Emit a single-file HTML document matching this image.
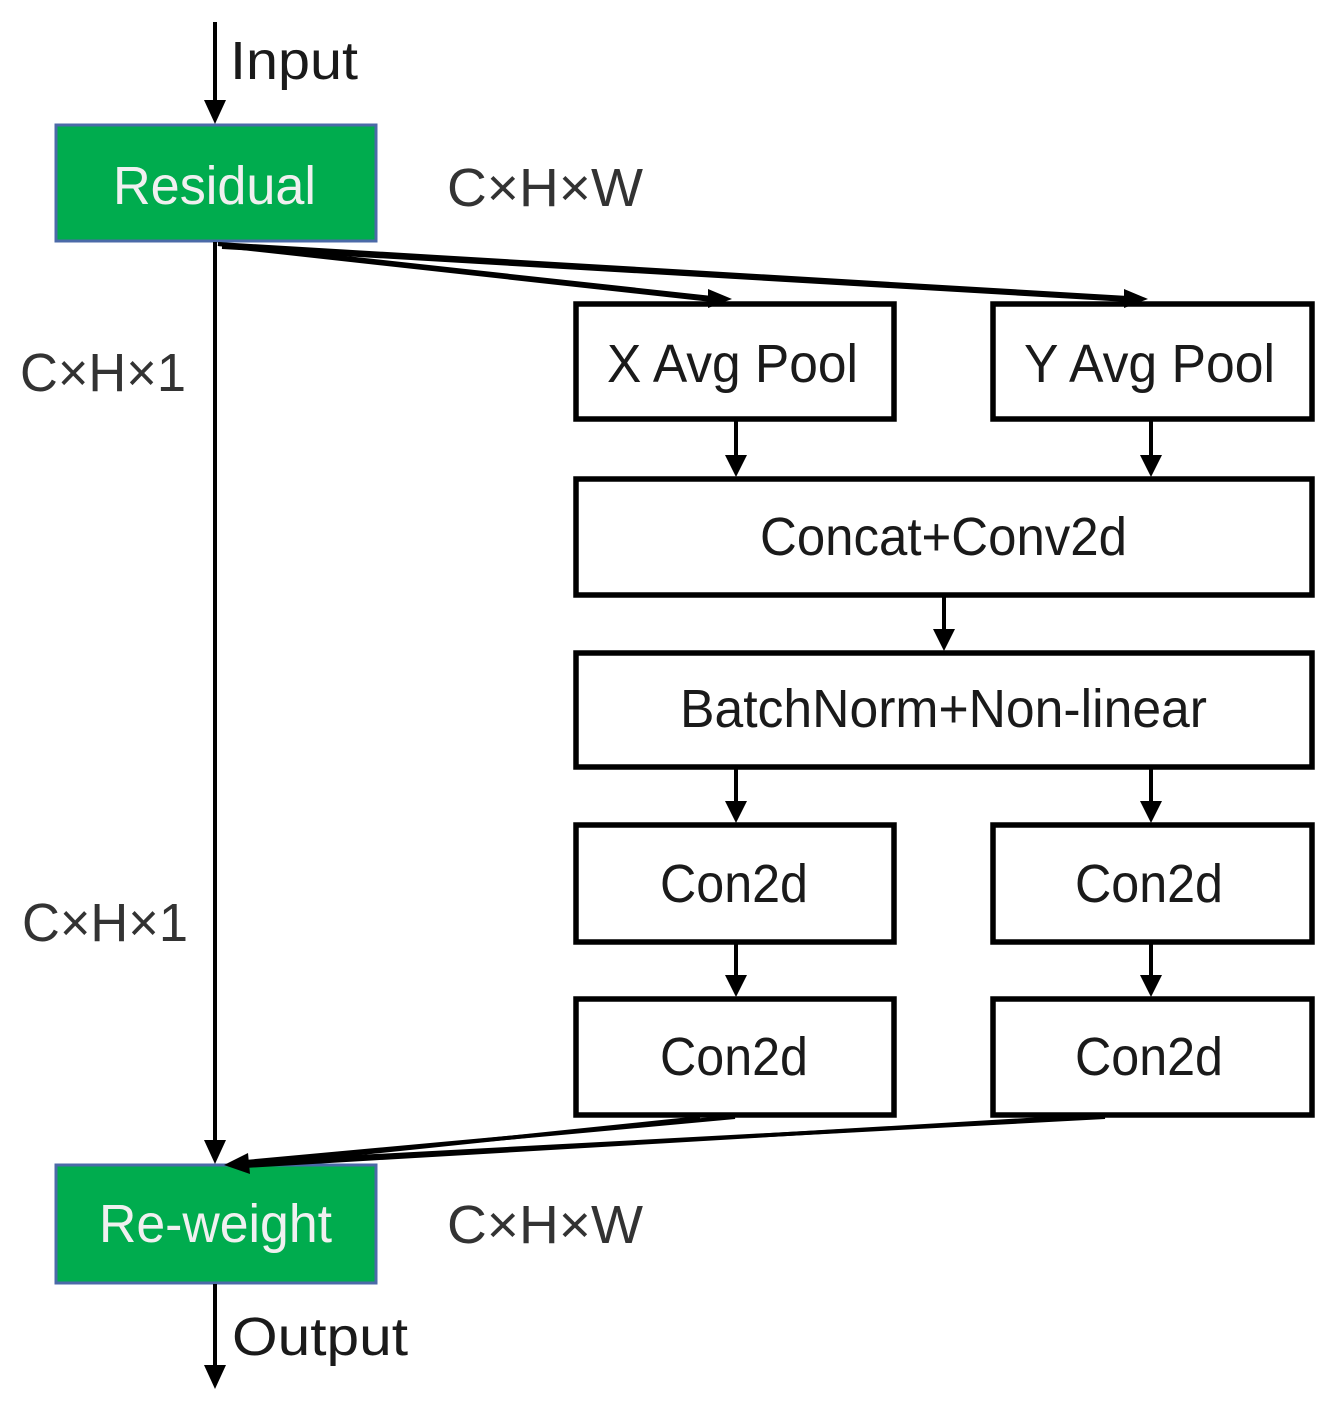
<!DOCTYPE html>
<html><head><meta charset="utf-8"><style>html,body{margin:0;padding:0;background:#fff}svg{display:block}</style></head>
<body>
<svg width="1333" height="1402" viewBox="0 0 1333 1402" xmlns="http://www.w3.org/2000/svg" font-family="Liberation Sans, Arial, sans-serif">
<rect x="56" y="125" width="320" height="116" fill="#00ac4e" stroke="#4b6aa8" stroke-width="3"/>
<rect x="56" y="1165" width="320" height="118" fill="#00ac4e" stroke="#4b6aa8" stroke-width="3"/>
<g fill="#fff" stroke="#000" stroke-width="5.5">
<rect x="576" y="304" width="318" height="115"/>
<rect x="993" y="304" width="319" height="115"/>
<rect x="576" y="479" width="736" height="116"/>
<rect x="576" y="653" width="736" height="114"/>
<rect x="576" y="825" width="318" height="117"/>
<rect x="993" y="825" width="319" height="117"/>
<rect x="576" y="999" width="318" height="116"/>
<rect x="993" y="999" width="319" height="116"/>
</g>
<g stroke="#000" stroke-width="4" fill="none">
<line x1="215" y1="22" x2="215" y2="105"/>
<line x1="215" y1="242" x2="215" y2="1145"/>
<line x1="215" y1="1284" x2="215" y2="1370"/>
<line x1="736" y1="421" x2="736" y2="458"/>
<line x1="1151" y1="421" x2="1151" y2="458"/>
<line x1="944" y1="597" x2="944" y2="632"/>
<line x1="736" y1="769" x2="736" y2="804"/>
<line x1="1151" y1="769" x2="1151" y2="804"/>
<line x1="736" y1="944" x2="736" y2="978"/>
<line x1="1151" y1="944" x2="1151" y2="978"/>
<path d="M218 244 L712 298"/>
<path d="M224 246 L712 300"/>
<path d="M218 244 L1128 298"/>
<path d="M222 247 L1128 300"/>
<path d="M735 1117 L245 1162"/>
<path d="M700 1118 L245 1165"/>
<path d="M1105 1117 L245 1163"/>
<path d="M1060 1118 L245 1166"/>
</g>
<g fill="#000">
<polygon points="204,100 226,100 215,124"/>
<polygon points="204,1140 226,1140 215,1164"/>
<polygon points="204,1365 226,1365 215,1389"/>
<polygon points="725,455 747,455 736,477"/>
<polygon points="1140,455 1162,455 1151,477"/>
<polygon points="933,629 955,629 944,651"/>
<polygon points="725,801 747,801 736,823"/>
<polygon points="1140,801 1162,801 1151,823"/>
<polygon points="725,975 747,975 736,997"/>
<polygon points="1140,975 1162,975 1151,997"/>
<polygon points="708,289 732,299 708,308"/>
<polygon points="1124,289 1148,299 1124,308"/>
<polygon points="248,1153 224,1165 250,1174"/>
</g>
<g font-size="54" fill="#1a1a1a">
<text x="230" y="79" textLength="128" lengthAdjust="spacingAndGlyphs">Input</text>
<text x="232" y="1355" textLength="176" lengthAdjust="spacingAndGlyphs">Output</text>
<text x="447" y="206" textLength="196" lengthAdjust="spacingAndGlyphs" fill="#333">C×H×W</text>
<text x="447" y="1243" textLength="196" lengthAdjust="spacingAndGlyphs" fill="#333">C×H×W</text>
<text x="20" y="391" textLength="166" lengthAdjust="spacingAndGlyphs" fill="#333">C×H×1</text>
<text x="22" y="941" textLength="166" lengthAdjust="spacingAndGlyphs" fill="#333">C×H×1</text>
<text x="607" y="382" textLength="251" lengthAdjust="spacingAndGlyphs">X Avg Pool</text>
<text x="1024" y="382" textLength="251" lengthAdjust="spacingAndGlyphs">Y Avg Pool</text>
<text x="760" y="555" textLength="367" lengthAdjust="spacingAndGlyphs">Concat+Conv2d</text>
<text x="680" y="727" textLength="527" lengthAdjust="spacingAndGlyphs">BatchNorm+Non-linear</text>
<text x="660" y="902" textLength="148" lengthAdjust="spacingAndGlyphs">Con2d</text>
<text x="1075" y="902" textLength="148" lengthAdjust="spacingAndGlyphs">Con2d</text>
<text x="660" y="1075" textLength="148" lengthAdjust="spacingAndGlyphs">Con2d</text>
<text x="1075" y="1075" textLength="148" lengthAdjust="spacingAndGlyphs">Con2d</text>
</g>
<g font-size="54" fill="#f0f0f0">
<text x="113" y="204" textLength="203" lengthAdjust="spacingAndGlyphs">Residual</text>
<text x="99" y="1242" textLength="233" lengthAdjust="spacingAndGlyphs">Re-weight</text>
</g>
</svg>
</body></html>
